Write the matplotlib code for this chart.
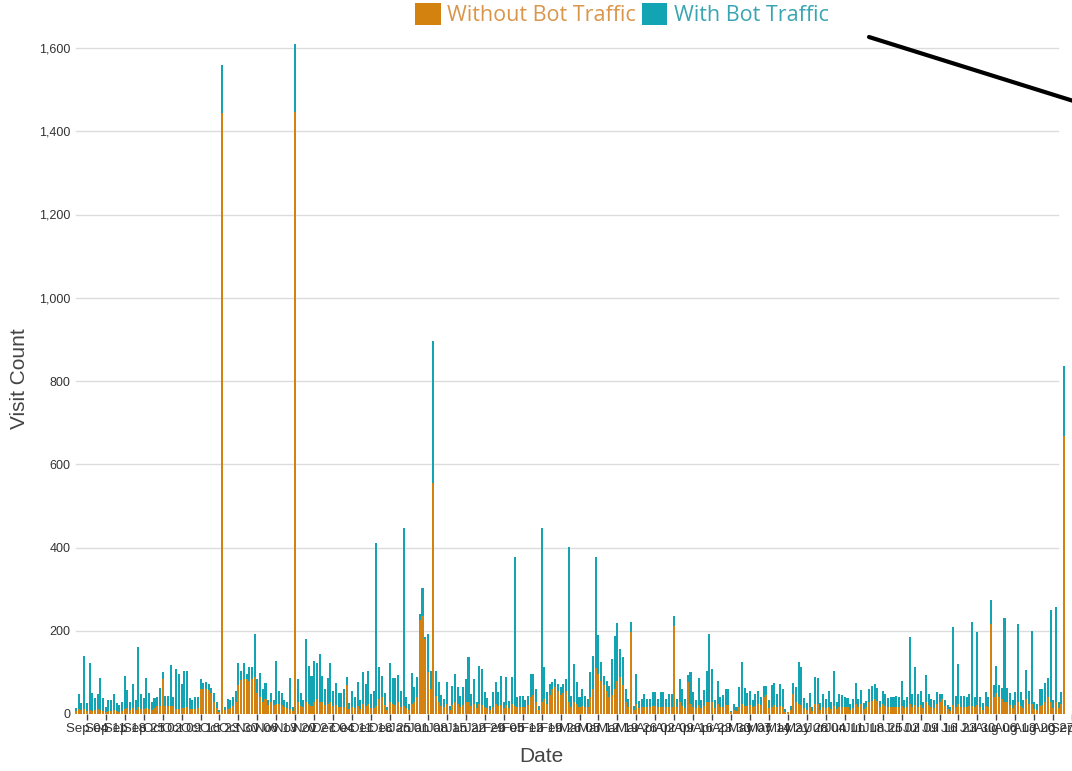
import matplotlib
matplotlib.use('Agg')
import matplotlib.pyplot as plt
import matplotlib.dates as mdates
from matplotlib.patches import Patch
from matplotlib.lines import Line2D
from matplotlib.ticker import FuncFormatter
import pandas as pd

# ---------------- data (daily visit counts) ----------------
start_date = '2017-08-31'

with_bot = [
    14, 47, 26, 139, 26, 122, 51, 38, 47, 87, 38, 18, 34, 34, 49, 26, 22, 30,
    91, 57, 30, 71, 34, 161, 47, 38, 87, 51,
    30, 38, 42, 63, 100, 44, 44, 118, 42, 109,
    96, 71, 104, 104, 38, 34, 40, 40, 83, 75,
    77, 71, 63, 51, 30, 10,
    1560,
    18, 36, 34, 40, 55, 122, 104, 122, 96, 112,
    112, 193, 83, 98, 59, 75, 34, 51, 34, 128,
    55, 51, 34, 30, 87, 18,
    1610,
    83, 51, 34, 179, 116, 91, 128, 122, 145, 91,
    59, 87, 122, 55, 75, 51, 51,
    60,
    90, 26, 55, 42, 77, 34, 102, 71, 104, 47, 55,
    410,
    113, 91, 51, 18, 122, 87, 86, 93,
    # ---- Jan ----
    56, 448, 40, 24, 98, 64, 90, 240, 302, 185, 192, 104,
    896,
    104, 78, 46, 36, 76, 20, 68, 96, 66, 44,
    64, 84, 138, 48, 84, 30, 116, 108, 52, 38,
    20, 52, 76, 52, 92, 28, 90, 32, 88,
    378,
    40, 44, 44, 34, 44, 96, 96, 60, 20,
    446,
    114, 52, 72, 78, 84, 72, 64, 72, 84,
    402,
    44, 120, 76, 40, 60, 44, 36, 100, 140,
    378,
    190, 124, 92, 80, 68, 132, 188, 218, 156, 136, 60, 36,
    220,
    20, 96, 32, 36, 48, 36, 36, 52, 52, 36, 52, 52, 36, 48, 48,
    236,
    36, 84,
    # ---- Apr ----
    59, 36, 93, 101, 52, 34, 87, 34,
    57, 104,
    193,
    109, 34, 79, 40, 45, 59, 59, 8, 24, 18,
    64, 126, 63, 51, 56, 34, 47, 56, 40, 67, 67,
    34, 69, 75, 47, 71, 59, 11, 6, 20, 75,
    64, 124, 112, 38, 26, 51, 18, 90, 87, 26,
    47, 36, 55, 30, 104, 30, 47, 45, 40, 38,
    24, 36, 75, 36, 57, 26, 32, 60, 67, 73,
    63, 32, 56, 47, 38, 42, 40, 44, 40, 79, 34, 42,
    185,
    47, 112, 47, 55, 30, 94, 47, 36,
    33, 53, 47, 48, 34, 22, 18,
    208,
    44, 120, 44, 44, 42, 47, 222, 42, 196, 42, 26, 52, 40,
    275,
    69, 116, 69, 63, 230, 63, 51, 34, 52, 216, 52, 34,
    105, 56, 199, 30, 24, 59, 60, 75, 87, 249, 34, 256, 30, 52,
    835,
]

without_bot = [
    8, 12, 10, 12, 8, 10, 8, 10, 12, 10, 8, 6, 8, 8, 10, 8, 6, 8,
    12, 14, 10, 14, 10, 16, 12, 12, 14, 12,
    10, 14, 20, 20, 83, 20, 20, 20, 20, 12,
    12, 14, 15, 16, 12, 12, 12, 14, 59, 60,
    60, 58, 50, 30, 14, 6,
    1443,
    10, 12, 14, 20, 30, 70, 82, 85, 85, 80,
    85, 88, 50, 40, 30, 35, 22, 28, 22, 25,
    25, 22, 18, 14, 12, 8,
    1447,
    30, 20, 16, 30, 24, 20, 28, 35, 30, 28,
    22, 25, 30, 20, 22, 18, 16,
    18,
    69, 12, 18, 15, 20, 12, 25, 20, 25, 15, 15,
    20,
    35, 40, 22, 10, 30, 25, 22, 28,
    # ---- Jan ----
    18, 20, 15, 10, 25, 30, 40, 225, 235, 180, 100, 60,
    556,
    44, 30, 20, 16, 24, 10, 22, 30, 25, 18,
    22, 28, 30, 20, 25, 14, 24, 22, 18, 14,
    10, 18, 24, 20, 22, 14, 22, 14, 25,
    20,
    16, 18, 18, 16, 22, 40, 45, 30, 10,
    30,
    35, 25, 45, 60, 65, 55, 45, 50, 55,
    30,
    18, 30, 25, 16, 20, 18, 16, 40, 60,
    110,
    95, 80, 70, 55, 40, 45, 60, 80, 90, 70, 30, 16,
    198,
    10, 25, 14, 16, 18, 16, 16, 20, 20, 16, 18, 18, 16, 18, 18,
    212,
    16, 28,
    # ---- Apr ----
    20, 15, 77, 25, 18, 14, 22, 14,
    20, 28,
    30,
    28, 14, 24, 16, 18, 22, 22, 4, 10, 8,
    18, 25, 20, 20, 22, 16, 20, 25, 22, 40, 45,
    14, 18, 22, 16, 20, 18, 6, 4, 10, 47,
    30, 25, 22, 14, 10, 16, 8, 25, 25, 10,
    16, 14, 18, 12, 20, 12, 16, 16, 16, 16,
    10, 14, 25, 16, 25, 12, 18, 30, 32, 35,
    32, 18, 25, 20, 16, 16, 16, 16, 16, 20, 14, 16,
    25,
    18, 22, 18, 22, 14, 30, 22, 16,
    14, 25, 30, 35, 20, 12, 8,
    22,
    18, 25, 18, 18, 16, 20, 20, 16, 22, 16, 10, 20, 18,
    216,
    40, 50, 42, 35, 30, 30, 22, 14, 22, 30, 20, 14,
    35, 25, 25, 12, 10, 20, 22, 30, 40, 30, 14, 30, 14, 25,
    668,
]

series_labels = ['Without Bot Traffic', 'With Bot Traffic']
y_ticks = [0, 200, 400, 600, 800, 1000, 1200, 1400, 1600]

n = min(len(with_bot), len(without_bot))
dates = pd.date_range(start_date, periods=n, freq='D')

# ---------------- styling ----------------
ORANGE = '#D4820F'
TEAL = '#13A4B3'
ORANGE_TXT = '#D9954A'
TEAL_TXT = '#3AA5B2'
W, H = 1072, 771

plt.rcParams['font.family'] = ['Liberation Sans', 'DejaVu Sans']

fig = plt.figure(figsize=(W / 100, H / 100), dpi=100)
fig.patch.set_facecolor('white')

ax_left, ax_right, ax_top, ax_bottom = 73, 1080, 40, 714
ax = fig.add_axes([ax_left / W, (H - ax_bottom) / H,
                   (ax_right - ax_left) / W, (ax_bottom - ax_top) / H])

xnum = mdates.date2num(dates)
ax.bar(xnum, with_bot[:n], width=0.75, color=TEAL, zorder=2, linewidth=0)
ax.bar(xnum, without_bot[:n], width=0.75, color=ORANGE, zorder=3, linewidth=0)

px_per_day = 2.707
ax.set_xlim(xnum[0] - (76 - ax_left) / px_per_day,
            xnum[0] + (ax_right - 76) / px_per_day)
ax.set_ylim(0, 1600 * (ax_bottom - ax_top) / (ax_bottom - 48))

grid_end = (1058 - ax_left) / (ax_right - ax_left)
for yv in y_ticks[1:]:
    ax.axhline(yv, xmin=0.003, xmax=grid_end, color='#dcdcdc', lw=1.0, zorder=1)

for s in ax.spines.values():
    s.set_visible(False)

ax.set_yticks(y_ticks)
ax.yaxis.set_major_formatter(FuncFormatter(lambda v, p: f'{int(v):,}'))
ax.tick_params(axis='y', length=0, pad=2, labelsize=9, labelcolor='#333333')

ax.xaxis.set_major_locator(mdates.WeekdayLocator(byweekday=mdates.MO))
ax.xaxis.set_major_formatter(mdates.DateFormatter('%b %d'))
ax.tick_params(axis='x', length=4.5, width=1, color='#444444', pad=2,
               labelsize=9.5, labelcolor='#333333')

fig.text(20 / W, 1 - 379 / H, 'Visit Count', rotation=90, ha='center',
         va='center', fontsize=15, color='#444444')
fig.text(541 / W, 1 - 757 / H, 'Date', ha='center', va='center',
         fontsize=15, color='#444444')

# legend
handles = [Patch(facecolor=ORANGE, edgecolor='none'),
           Patch(facecolor=TEAL, edgecolor='none')]
leg = fig.legend(handles, series_labels, loc='upper center',
                 bbox_to_anchor=(622 / W, 1 - 3 / H), ncol=2, frameon=False,
                 handlelength=1.2, handleheight=1.2, handletextpad=0.3,
                 columnspacing=0.25, borderpad=0, borderaxespad=0,
                 prop={'family': 'Open Sans', 'size': 15.5})
for t, c in zip(leg.get_texts(), [ORANGE_TXT, TEAL_TXT]):
    t.set_color(c)

# annotation line in the upper right
x0, y0 = 869, 37
slope = 0.313
x1 = 1110
fig.add_artist(Line2D([x0 / W, x1 / W],
                      [1 - y0 / H, 1 - (y0 + slope * (x1 - x0)) / H],
                      color='black', lw=3, solid_capstyle='round'))

fig.savefig('out.png', dpi=100, facecolor='white')
